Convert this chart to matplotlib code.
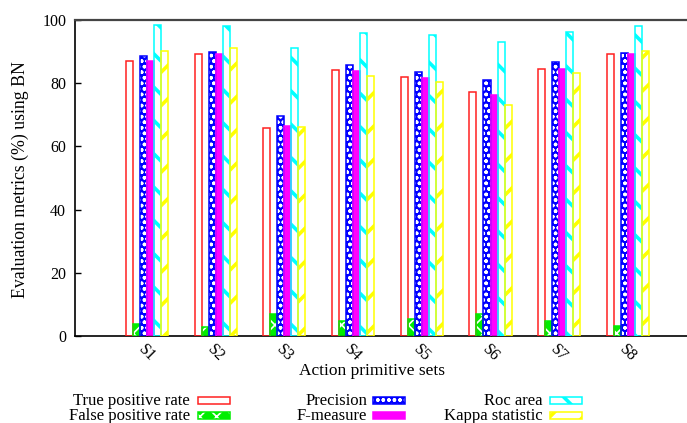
import matplotlib
matplotlib.use("Agg")
import matplotlib.pyplot as plt
from matplotlib.patches import Rectangle
import numpy as np

# ── Данные ──────────────────────────────────────────────────────────────
sets = ["S1", "S2", "S3", "S4", "S5", "S6", "S7", "S8"]
tp_rate = [87.0, 89.2, 65.8, 84.2, 81.9, 77.2, 84.6, 89.1]
fp_rate = [3.8, 2.7, 7.0, 4.9, 5.3, 7.0, 4.7, 3.2]
precision = [88.6, 89.9, 69.6, 85.8, 83.5, 81.0, 86.7, 89.6]
f_measure = [87.0, 89.2, 66.5, 84.0, 81.6, 76.3, 84.5, 89.3]
roc_area = [98.4, 98.2, 91.2, 96.0, 95.3, 93.1, 96.1, 98.2]
kappa = [90.2, 91.1, 66.1, 82.3, 80.3, 73.1, 83.2, 90.2]

series = [
    ("True positive rate", tp_rate),
    ("False positive rate", fp_rate),
    ("Precision", precision),
    ("F-measure", f_measure),
    ("Roc area", roc_area),
    ("Kappa statistic", kappa),
]

# стиль: (заливка, цвет штриховки, штриховка, цвет контура, толщина штриховки)
styles = [
    ("white", None, None, "#ff2020", 1.0),
    ("#00ee00", "white", "xx", "#00ee00", 1.2),
    ("#0000ff", "white", "ooo", "#0000ff", 1.0),
    ("#ff00ff", None, None, "#ff00ff", 1.0),
    ("white", "#00ffff", "\\", "#00ffff", 2.6),
    ("white", "#ffff00", "/", "#ffff00", 2.6),
]

plt.rcParams.update({
    "font.family": "Liberation Serif",
    "font.size": 11,
})

fig = plt.figure(figsize=(6.87, 4.23), dpi=100)
ax = fig.add_axes([74.5 / 687, 87 / 423, 612.5 / 687, 316 / 423])

x = np.arange(len(sets))
w = 0.102


def draw_bars(xs, vals, st, target):
    face, hcol, hatch, edge, hlw = st
    target.bar(xs, vals, w, color=face, edgecolor="none", linewidth=0, zorder=2)
    if hatch:
        with plt.rc_context({"hatch.linewidth": hlw}):
            target.bar(xs, vals, w, color="none", edgecolor=hcol, hatch=hatch,
                       linewidth=0, zorder=3)
    target.bar(xs, vals, w, color="none", edgecolor=edge, linewidth=1.1, zorder=4)


for k, (name, vals) in enumerate(series):
    draw_bars(x + (k - 2.5) * w, vals, styles[k], ax)

ax.set_xlim(-1.055, 7.86)
ax.set_ylim(0, 100)
ax.set_yticks([0, 20, 40, 60, 80, 100])
ax.set_xticks(x)
ax.set_xticklabels(sets, rotation=-45, ha="center", va="top")
ax.tick_params(axis="y", direction="in", length=4, width=1, pad=6, labelsize=11.5)
ax.tick_params(axis="x", direction="in", length=4, width=1, pad=4, labelsize=11.5)
ax.spines["right"].set_visible(False)
ax.spines["top"].set_color("#444444")
ax.spines["top"].set_linewidth(1.6)
for s in ("left", "bottom"):
    ax.spines[s].set_linewidth(1.2)

fig.text(372 / 687, 1 - 371 / 423, "Action primitive sets", ha="center", va="center",
         fontsize=12.5)
fig.text(20 / 687, 1 - 180 / 423, "Evaluation metrics (%) using BN",
         ha="center", va="center", rotation=90, fontsize=12.8)

# ── Легенда (в стиле gnuplot: подпись справа налево, образец после) ─────
text_x = [190, 190, 367, 367, 543, 543]
box_x = [198, 198, 373, 373, 550, 550]
row_y = [400.5, 415.5, 400.5, 415.5, 400.5, 415.5]
box_w, box_h = 32, 7
for k, (name, vals) in enumerate(series):
    fig.text(text_x[k] / 687, 1 - row_y[k] / 423, name, ha="right", va="center",
             fontsize=12)
    face, hcol, hatch, edge, hlw = styles[k]
    x0 = box_x[k] / 687
    y0 = 1 - (row_y[k] + box_h / 2) / 423
    fig.patches.append(Rectangle((x0, y0), box_w / 687, box_h / 423,
                                 transform=fig.transFigure, facecolor=face,
                                 edgecolor="none"))
    if hatch:
        with plt.rc_context({"hatch.linewidth": hlw}):
            fig.patches.append(Rectangle((x0, y0), box_w / 687, box_h / 423,
                                         transform=fig.transFigure, facecolor="none",
                                         edgecolor=hcol, hatch=hatch, linewidth=0))
    fig.patches.append(Rectangle((x0, y0), box_w / 687, box_h / 423,
                                 transform=fig.transFigure, facecolor="none",
                                 edgecolor=edge, linewidth=1.1))

fig.savefig("out.png", dpi=100)
plt.close(fig)
